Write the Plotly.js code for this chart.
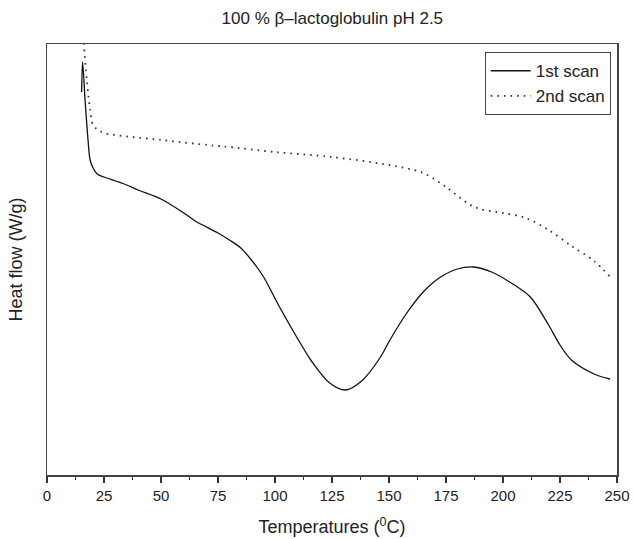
<!DOCTYPE html>
<html>
<head>
<meta charset="utf-8">
<script src="https://cdn.plot.ly/plotly-3.0.1.min.js"></script>
<style>html,body{margin:0;padding:0;background:#fff;}#chart{width:633px;height:539px;}</style>
</head>
<body>
<div id="chart"></div>
<script>
// 1st scan (temperature in °C, heat flow in arbitrary units)
const scan1T = [15.2, 15.6, 16.7, 18.0, 18.9, 20.2, 22.0, 25, 30, 35, 40, 50, 60, 65, 75, 80, 85, 90, 95, 102, 109.5, 116, 124, 131, 138, 146, 150.4, 157.8, 165, 172, 180, 187, 195, 205, 212, 220, 225, 230, 240, 247];
const scan1H = [383, 413, 375, 335, 315, 307, 301, 298, 294, 290, 285, 276, 262, 254, 242, 235, 227, 214, 198, 168, 138, 114, 92, 85, 94, 117, 135, 162, 183, 197, 206, 208, 203, 190, 178, 150, 130, 115, 101, 96];
// 2nd scan
const scan2T = [16.0, 16.2, 17.5, 18.9, 20.2, 22.4, 25, 50, 75, 80, 100, 125, 150, 165, 175, 185, 190, 200, 210, 220, 230, 240, 247];
const scan2H = [445, 431, 395, 365, 350, 345, 342, 335, 329, 328, 323, 318, 310, 302, 288, 271, 266, 262, 257, 245, 229, 214, 198];
const xTicks = [0, 25, 50, 75, 100, 125, 150, 175, 200, 225, 250];

const font = 'Liberation Sans, Arial, sans-serif';
const traces = [
  {x: scan1T, y: scan1H, name: '1st scan', mode: 'lines', type: 'scatter',
   line: {color: '#111', width: 1.3, shape: 'spline', smoothing: 0.9}},
  {x: scan2T, y: scan2H, name: '2nd scan', mode: 'lines', type: 'scatter',
   line: {color: '#333', width: 1.8, dash: '1.6px,5px', shape: 'spline', smoothing: 0.9}}
];
const layout = {
  width: 633, height: 539,
  margin: {l: 47, r: 16, t: 44, b: 64},
  paper_bgcolor: '#fff', plot_bgcolor: '#fff',
  font: {family: font, color: '#222'},
  showlegend: true,
  title: {text: '100 % β–lactoglobulin pH 2.5', font: {family: font, size: 17, color: '#222'}, x: 0.525, xanchor: 'center', y: 0.967, yanchor: 'middle'},
  xaxis: {
    range: [0, 250], tickvals: xTicks, ticktext: xTicks.map(String),
    ticks: 'outside', ticklen: 6, tickwidth: 1.2, tickcolor: '#333',
    minor: {dtick: 12.5, tick0: 0, ticks: 'outside', ticklen: 3, tickwidth: 1, tickcolor: '#333'},
    showline: true, mirror: true, linecolor: '#444', linewidth: 1.5,
    showgrid: false, zeroline: false,
    tickfont: {family: font, size: 15, color: '#222'},
    title: {text: 'Temperatures (<sup>0</sup>C)', font: {family: font, size: 18, color: '#222'}, standoff: 18}
  },
  yaxis: {
    range: [0, 431], showticklabels: false, ticks: '',
    showline: true, mirror: true, linecolor: '#444', linewidth: 1.5,
    showgrid: false, zeroline: false,
    title: {text: 'Heat flow (W/g)', font: {family: font, size: 18, color: '#222'}, standoff: 18}
  },
  legend: {
    x: 0.989, xanchor: 'right', y: 0.981, yanchor: 'top',
    bgcolor: '#fff', bordercolor: '#444', borderwidth: 1,
    font: {family: font, size: 17, color: '#222'},
    tracegroupgap: 0, itemwidth: 40
  }
};
Plotly.newPlot('chart', traces, layout, {displayModeBar: false, staticPlot: true});
</script>
</body>
</html>
